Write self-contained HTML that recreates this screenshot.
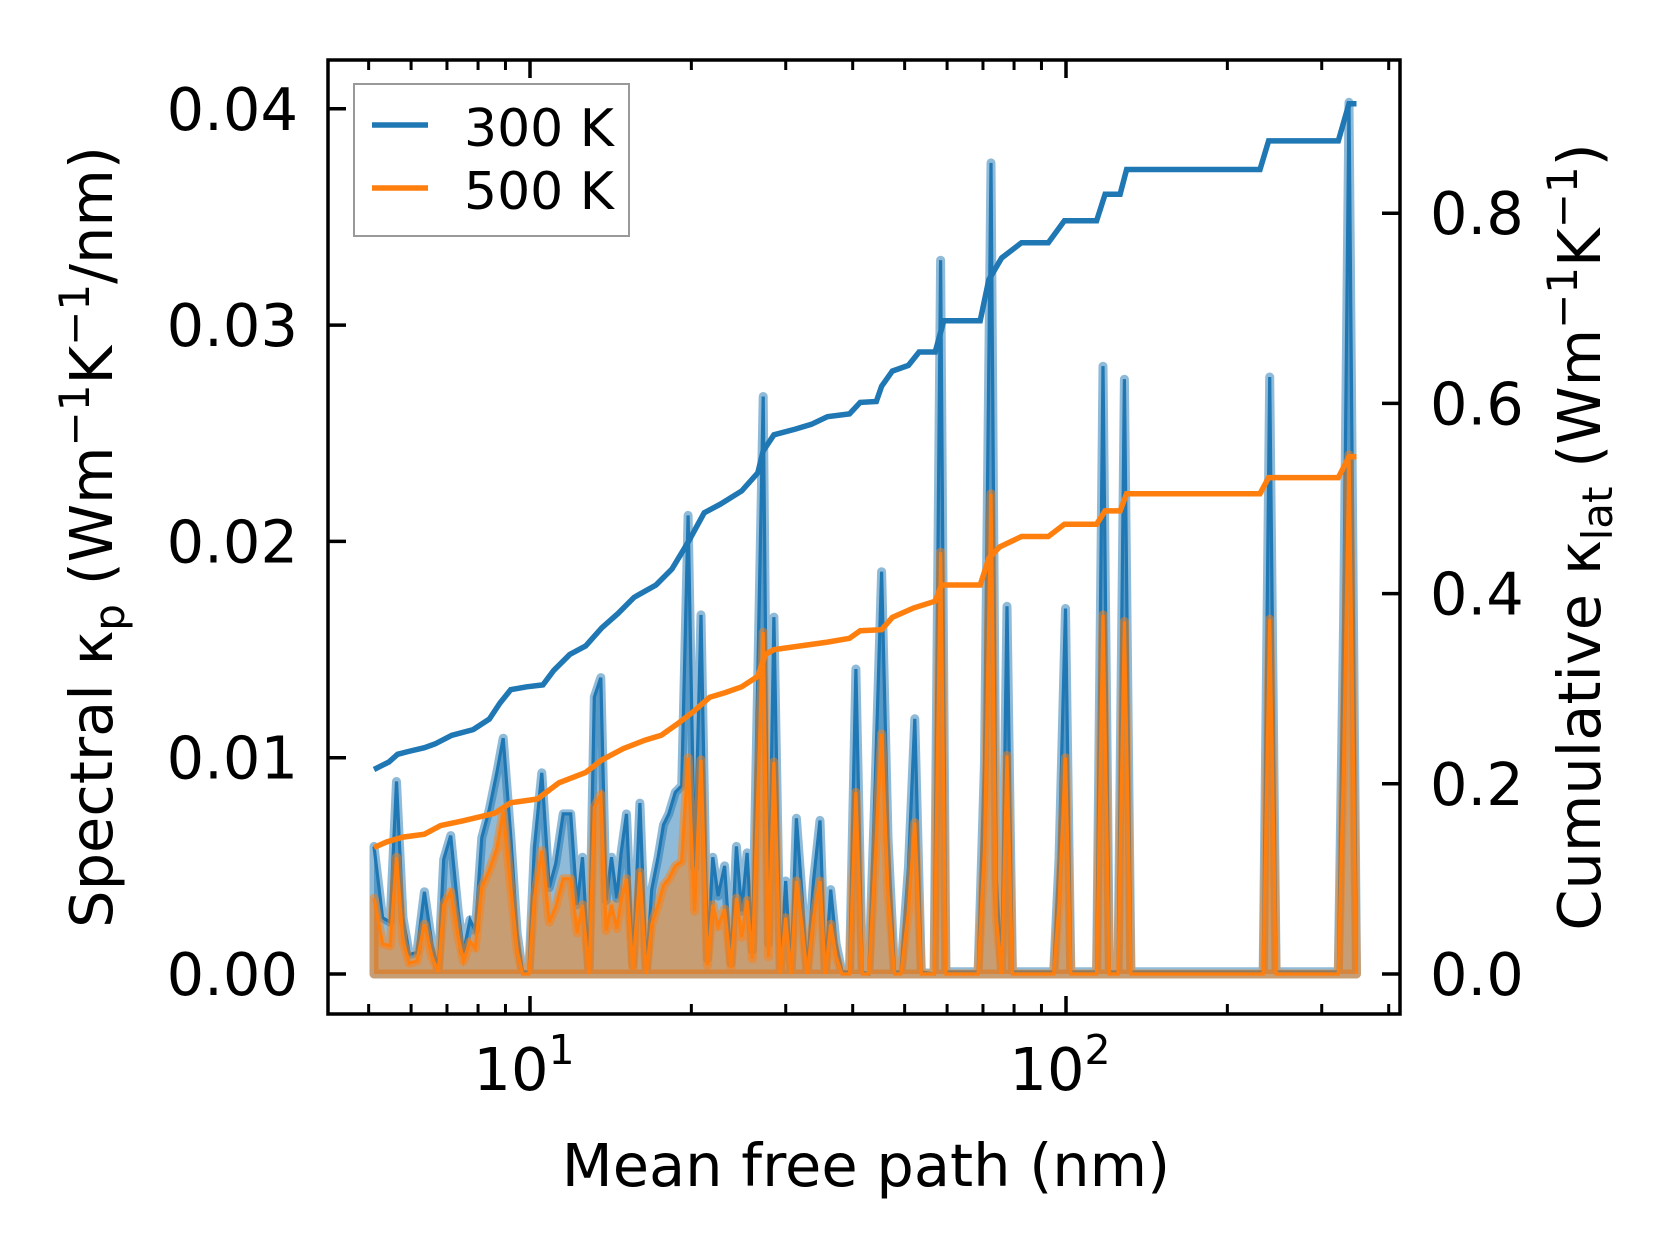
<!DOCTYPE html>
<html><head><meta charset="utf-8"><style>
html,body{margin:0;padding:0;background:#fff;}
svg{display:block;font-family:"DejaVu Sans","Liberation Sans",sans-serif;}
</style></head><body>
<svg id="chart" width="1679" height="1254" viewBox="0 0 1679 1254" xmlns="http://www.w3.org/2000/svg">
<rect width="1679" height="1254" fill="#fff"/>
<g id="plot"></g>
<g id="axes"></g>
<text transform="translate(112,537) rotate(-90)" text-anchor="middle" font-size="59">Spectral κ<tspan font-size="42" dy="12">p</tspan><tspan dy="-12"> (Wm</tspan><tspan font-size="42" dy="-23">−1</tspan><tspan dy="23">K</tspan><tspan font-size="42" dy="-23">−1</tspan><tspan dy="23">/nm)</tspan></text>
<text transform="translate(1600,537) rotate(-90)" text-anchor="middle" font-size="59">Cumulative κ<tspan font-size="42" dy="12">lat</tspan><tspan dy="-12"> (Wm</tspan><tspan font-size="42" dy="-23">−1</tspan><tspan dy="23">K</tspan><tspan font-size="42" dy="-23">−1</tspan><tspan dy="23">)</tspan></text>
<text x="866" y="1186" text-anchor="middle" font-size="59">Mean free path (nm)</text>
<g>
<rect x="354" y="84" width="275" height="152" fill="#fff" fill-opacity="0.8" stroke="#999" stroke-width="2"/>
<line x1="372" y1="125" x2="428" y2="125" stroke="#1f77b4" stroke-width="5.5"/>
<text x="464" y="146" font-size="52">300 K</text>
<line x1="372" y1="188" x2="428" y2="188" stroke="#ff7f0e" stroke-width="5.5"/>
<text x="464" y="209" font-size="52">500 K</text>
</g>
</svg>
<script>
const logMfpSpec = [0.709,0.725,0.739,0.751,0.763,0.775,0.789,0.803,0.817,0.829,0.839,0.852,0.866,0.876,0.888,0.898,0.910,0.924,0.938,0.950,0.964,0.976,0.986,0.998,1.008,1.022,1.036,1.048,1.062,1.076,1.088,1.098,1.110,1.120,1.132,1.142,1.152,1.162,1.170,1.180,1.192,1.205,1.217,1.227,1.239,1.249,1.259,1.271,1.283,1.295,1.307,1.319,1.331,1.341,1.351,1.363,1.375,1.385,1.395,1.405,1.415,1.425,1.435,1.445,1.455,1.467,1.477,1.487,1.497,1.507,1.517,1.529,1.541,1.551,1.561,1.571,1.582,1.596,1.608,1.620,1.632,1.644,1.656,1.668,1.680,1.692,1.706,1.718,1.730,1.754,1.766,1.776,1.836,1.848,1.860,1.870,1.880,1.890,1.900,1.977,1.987,1.999,2.009,2.057,2.069,2.081,2.097,2.109,2.121,2.368,2.380,2.392,2.508,2.518,2.528,2.542];
const spec300 = [0.0059,0.0026,0.0024,0.0089,0.0026,0.0009,0.0010,0.0038,0.0014,0.0002,0.0053,0.0064,0.0029,0.0010,0.0025,0.0020,0.0063,0.0076,0.0093,0.0109,0.0064,0.0019,0.0001,0.0001,0.0058,0.0093,0.0040,0.0051,0.0074,0.0074,0.0032,0.0054,0.0001,0.0128,0.0137,0.0034,0.0054,0.0035,0.0056,0.0074,0.0004,0.0079,0.0001,0.0039,0.0054,0.0069,0.0074,0.0084,0.0087,0.0212,0.0049,0.0166,0.0007,0.0054,0.0036,0.0050,0.0005,0.0059,0.0029,0.0056,0.0011,0.0138,0.0267,0.0014,0.0165,0.0001,0.0043,0.0001,0.0072,0.0038,0.0001,0.0043,0.0071,0.0001,0.0039,0.0014,0.0001,0.0001,0.0141,0.0001,0,0.0088,0.0186,0.0063,0.0001,0.0001,0.0049,0.0118,0.0001,0,0.0330,0.0001,0.0001,0.0098,0.0375,0.0044,0.0001,0.0170,0.0001,0.0001,0.0053,0.0169,0.0001,0.0001,0.0281,0.0001,0.0001,0.0275,0.0001,0.0001,0.0276,0.0001,0.0001,0.0163,0.0403,0.0001];
const spec500 = [0.0035,0.0014,0.0013,0.0054,0.0015,0.0005,0.0006,0.0023,0.0008,0.0001,0.0032,0.0038,0.0017,0.0006,0.0015,0.0012,0.0040,0.0048,0.0058,0.0075,0.0040,0.0011,0,0,0.0035,0.0057,0.0024,0.0031,0.0044,0.0044,0.0019,0.0032,0,0.0077,0.0083,0.0020,0.0032,0.0021,0.0034,0.0044,0.0002,0.0047,0,0.0023,0.0032,0.0041,0.0044,0.0050,0.0052,0.0100,0.0029,0.0099,0.0004,0.0032,0.0022,0.0030,0.0003,0.0035,0.0017,0.0034,0.0007,0.0083,0.0158,0.0008,0.0098,0,0.0026,0,0.0043,0.0023,0,0.0026,0.0043,0,0.0023,0.0008,0,0,0.0084,0,0,0.0053,0.0111,0.0038,0,0,0.0029,0.0070,0,0,0.0195,0,0,0.0058,0.0222,0.0026,0,0.0101,0,0,0.0032,0.0100,0,0,0.0166,0,0,0.0163,0,0,0.0164,0,0,0.0097,0.0240,0];
const logMfpCum300 = [0.709,0.737,0.753,0.773,0.803,0.823,0.854,0.894,0.924,0.944,0.964,0.994,1.024,1.044,1.074,1.104,1.134,1.164,1.194,1.235,1.265,1.295,1.325,1.355,1.395,1.425,1.435,1.455,1.495,1.525,1.555,1.596,1.616,1.646,1.656,1.676,1.706,1.726,1.756,1.772,1.840,1.856,1.880,1.917,1.967,1.997,2.057,2.073,2.101,2.113,2.362,2.378,2.508,2.528,2.542];
const cum300 = [0.215,0.223,0.231,0.234,0.238,0.242,0.251,0.257,0.268,0.285,0.299,0.302,0.304,0.319,0.336,0.345,0.364,0.379,0.396,0.409,0.426,0.454,0.485,0.494,0.508,0.527,0.550,0.567,0.573,0.578,0.586,0.589,0.601,0.602,0.618,0.634,0.640,0.654,0.654,0.687,0.687,0.730,0.753,0.769,0.769,0.792,0.792,0.820,0.820,0.846,0.846,0.876,0.876,0.915,0.915];
const logMfpCum500 = [0.709,0.733,0.763,0.803,0.833,0.874,0.934,0.964,1.014,1.054,1.104,1.134,1.174,1.215,1.245,1.275,1.305,1.335,1.365,1.395,1.425,1.439,1.455,1.505,1.555,1.596,1.616,1.656,1.676,1.716,1.756,1.768,1.840,1.856,1.876,1.917,1.967,1.997,2.057,2.073,2.101,2.113,2.362,2.378,2.508,2.528,2.542];
const cum500 = [0.133,0.139,0.144,0.147,0.156,0.161,0.169,0.180,0.184,0.201,0.212,0.225,0.237,0.246,0.251,0.263,0.276,0.291,0.296,0.302,0.313,0.336,0.341,0.345,0.349,0.353,0.361,0.362,0.375,0.385,0.392,0.409,0.409,0.437,0.449,0.460,0.460,0.473,0.473,0.487,0.487,0.505,0.505,0.522,0.522,0.544,0.544];
const leftTicks = [0, 0.01, 0.02, 0.03, 0.04];
const leftTickLabels = ["0.00","0.01","0.02","0.03","0.04"];
const rightTicks = [0, 0.2, 0.4, 0.6, 0.8];
const rightTickLabels = ["0.0","0.2","0.4","0.6","0.8"];
const xMajor = [10, 100];
const xMinor = [5,6,7,8,9,20,30,40,50,60,70,80,90,200,300,400];

const L=328,R=1400,T=60,B=1014;
function xs(lx){return 530+(lx-1)*536;}
function yl(v){return 974-v*21630;}
function yr(v){return 974-v*951;}
const NS="http://www.w3.org/2000/svg";
function mk(tag,attrs,parent){const e=document.createElementNS(NS,tag);for(const k in attrs)e.setAttribute(k,attrs[k]);parent.appendChild(e);return e;}
const plot=document.getElementById('plot'), axes=document.getElementById('axes');

function areaPath(xsArr,vals){
  let d='M'+xs(xsArr[0]).toFixed(1)+','+yl(0).toFixed(1);
  for(let i=0;i<xsArr.length;i++) d+='L'+xs(xsArr[i]).toFixed(1)+','+yl(vals[i]).toFixed(1);
  d+='L'+xs(xsArr[xsArr.length-1]).toFixed(1)+','+yl(0).toFixed(1)+'Z';
  return d;
}
function linePath(xsArr,vals,yf){
  let d='';
  for(let i=0;i<xsArr.length;i++) d+=(i?'L':'M')+xs(xsArr[i]).toFixed(1)+','+yf(vals[i]).toFixed(1);
  return d;
}
const a300=mk('path',{d:areaPath(logMfpSpec,spec300),fill:'#1f77b4','fill-opacity':0.5,stroke:'#1f77b4','stroke-opacity':0.5,'stroke-width':9,'stroke-linejoin':'round'},plot);


const l300=mk('path',{d:linePath(logMfpSpec,spec300,yl),fill:'none',stroke:'#1f77b4','stroke-width':3.2},plot);


const a500=mk('path',{d:areaPath(logMfpSpec,spec500),fill:'#ff7f0e','fill-opacity':0.5,stroke:'#ff7f0e','stroke-opacity':0.5,'stroke-width':9,'stroke-linejoin':'round'},plot);


const l500=mk('path',{d:linePath(logMfpSpec,spec500,yl),fill:'none',stroke:'#ff7f0e','stroke-width':3.2},plot);


const c300=mk('path',{d:linePath(logMfpCum300,cum300,yr),fill:'none',stroke:'#1f77b4','stroke-width':5.5},plot);


const c500=mk('path',{d:linePath(logMfpCum500,cum500,yr),fill:'none',stroke:'#ff7f0e','stroke-width':5.5},plot);



const frame=mk('rect',{x:L,y:T,width:R-L,height:B-T,fill:'none',stroke:'#000','stroke-width':3.5},axes);


leftTicks.forEach((v,i)=>{
  const y=yl(v);
  const t=mk('line',{x1:L,x2:L+18,y1:y,y2:y,stroke:'#000','stroke-width':3.5},axes);
  
  
  const lb=mk('text',{x:298,y:y+21,'text-anchor':'end','font-size':59},axes);
  lb.textContent=leftTickLabels[i];
  
  
});
rightTicks.forEach((v,i)=>{
  const y=yr(v);
  const t=mk('line',{x1:R-18,x2:R,y1:y,y2:y,stroke:'#000','stroke-width':3.5},axes);
  
  
  const lb=mk('text',{x:1430,y:y+21,'text-anchor':'start','font-size':59},axes);
  lb.textContent=rightTickLabels[i];
  
  
});
xMajor.forEach(v=>{
  const x=xs(Math.log10(v));
  [[B,B-18],[T,T+18]].forEach(p=>{
    const t=mk('line',{x1:x,x2:x,y1:p[0],y2:p[1],stroke:'#000','stroke-width':3.5},axes);
    
    
  });
  const lb=mk('text',{x:x-6,y:1090,'text-anchor':'middle','font-size':59},axes);
  lb.textContent='10';
  const sup=mk('tspan',{'font-size':41,dy:-26},lb);
  sup.textContent=String(Math.round(Math.log10(v)));
  
  
});
xMinor.forEach(v=>{
  const x=xs(Math.log10(v));
  if(x<=L||x>=R) return;
  [[B,B-10],[T,T+10]].forEach(p=>{
    const t=mk('line',{x1:x,x2:x,y1:p[0],y2:p[1],stroke:'#000','stroke-width':3},axes);
    
    
  });
});
</script>
</body></html>
